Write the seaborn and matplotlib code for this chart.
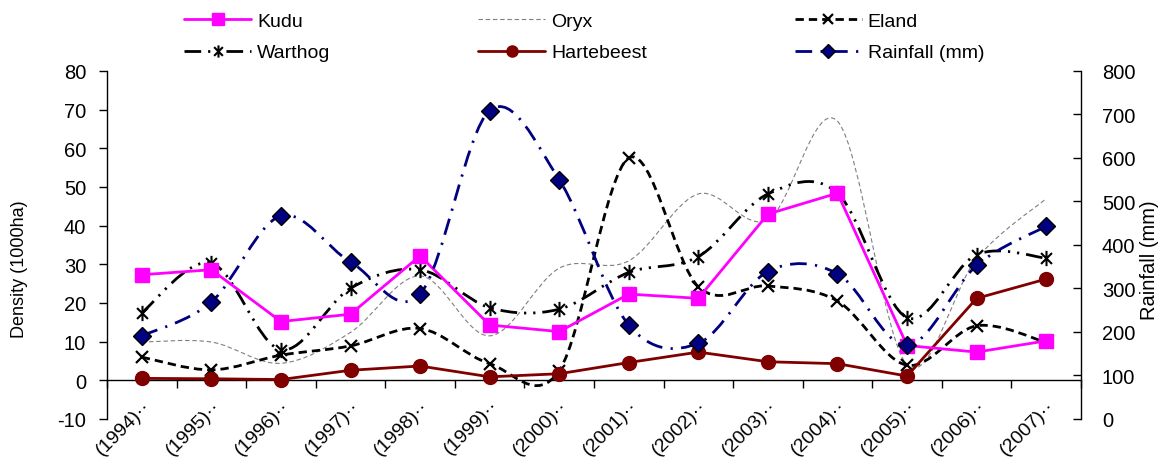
import numpy as np
import matplotlib
matplotlib.use('Agg')
import matplotlib.pyplot as plt
from matplotlib.path import Path
from matplotlib.patches import PathPatch
from matplotlib.lines import Line2D
from matplotlib.transforms import ScaledTranslation
import seaborn as sns

sns.set_theme(style='white')
plt.rcParams['font.family'] = ['Liberation Sans', 'DejaVu Sans']
plt.rcParams.update({'text.color': 'black', 'axes.labelcolor': 'black',
                     'xtick.color': 'black', 'ytick.color': 'black',
                     'axes.edgecolor': 'black', 'axes.unicode_minus': False})

# -----------------------------------------------------------------------------
# data
# -----------------------------------------------------------------------------
years = ['(1994)··', '(1995)··', '(1996)··', '(1997)··', '(1998)··', '(1999)··', '(2000)··',
         '(2001)··', '(2002)··', '(2003)··', '(2004)··', '(2005)··', '(2006)··', '(2007)··']

kudu = [27.3, 28.6, 15.2, 17.1, 32.2, 14.3, 12.6, 22.3, 21.2, 43.0, 48.4, 9.0, 7.3, 10.2]
oryx = [9.9, 9.9, 4.4, 12.4, 27.0, 11.5, 29.0, 30.9, 48.2, 41.5, 67.0, 4.0, 31.5, 47.0]
eland = [6.0, 2.7, 6.5, 8.9, 13.4, 4.3, 2.5, 57.5, 24.2, 24.4, 20.5, 3.9, 14.1, 9.8]
warthog = [17.5, 30.3, 7.9, 23.8, 28.6, 18.8, 18.4, 27.9, 32.0, 48.2, 48.4, 16.2, 32.5, 31.6]
hartebeest = [0.5, 0.4, 0.2, 2.6, 3.7, 0.9, 1.7, 4.6, 7.3, 4.8, 4.3, 1.1, 21.2, 26.2]
rainfall = [191, 269, 467, 361, 287, 709, 550, 216, 174, 339, 334, 169, 353, 443]

pos = np.arange(len(years))


# excel style smoothed line: bezier segments through the points
def smooth_path(x, y):
    pts = np.column_stack([x, y]).astype(float)
    ext = np.vstack([pts[:1], pts, pts[-1:]])
    verts, codes = [pts[0]], [Path.MOVETO]
    for i in range(len(pts) - 1):
        p0, p1, p2, p3 = ext[i], ext[i + 1], ext[i + 2], ext[i + 3]
        verts += [p1 + (p2 - p0) / 6, p2 - (p3 - p1) / 6, p2]
        codes += [Path.CURVE4] * 3
    return Path(verts, codes)


star = Path([(-1, -1), (1, 1), (-1, 1), (1, -1), (0, -1.4), (0, 1.4)],
            [Path.MOVETO, Path.LINETO] * 3)

styles = {
    'Kudu': dict(color='#FF00FF', lw=2, ls='-', marker='s', ms=10.5, mec='#FF00FF', mfc='#FF00FF', mew=1),
    'Oryx': dict(color='#7f7f7f', lw=0.8, ls=(0, (4, 2.5)), marker='', ms=0, mec='#7f7f7f', mfc='none', mew=1),
    'Eland': dict(color='black', lw=2, ls=(0, (3, 1.8)), marker='x', ms=9, mec='black', mfc='none', mew=1.6),
    'Warthog': dict(color='black', lw=2, ls=(0, (6, 2.5, 0.8, 2.5, 0.8, 2.5)), marker=star, ms=11, mec='black', mfc='none', mew=1.5),
    'Hartebeest': dict(color='#800000', lw=2, ls='-', marker='o', ms=10, mec='#800000', mfc='#800000', mew=1),
    'Rainfall (mm)': dict(color='#000080', lw=2, ls=(0, (6, 3, 0.8, 3)), marker='D', ms=9, mec='black', mfc='#000080', mew=1),
}

fig = plt.figure(figsize=(11.67, 4.6), dpi=100)
ax = fig.add_axes([0.0917, 0.087, 0.8346, 0.7565])
ax2 = ax.twinx()

# smoothed series: curve + markers
for name, vals, axis in [('Oryx', oryx, ax), ('Eland', eland, ax), ('Warthog', warthog, ax),
                         ('Rainfall (mm)', rainfall, ax2)]:
    st = styles[name]
    axis.add_patch(PathPatch(smooth_path(pos, vals), fill=False, edgecolor=st['color'],
                             lw=st['lw'], linestyle=st['ls'], zorder=2))
    if st['marker']:
        sns.lineplot(x=pos, y=vals, ax=axis, color=st['color'], linestyle='', marker=st['marker'],
                     markersize=st['ms'], mec=st['mec'], mfc=st['mfc'], mew=st['mew'],
                     errorbar=None, zorder=3)

# straight series
for name, vals in [('Hartebeest', hartebeest), ('Kudu', kudu)]:
    st = styles[name]
    sns.lineplot(x=pos, y=vals, ax=ax, color=st['color'], lw=st['lw'], marker=st['marker'],
                 markersize=st['ms'], mec=st['mec'], mfc=st['mfc'], mew=st['mew'],
                 errorbar=None, zorder=3)

# axes
ax.set_xlim(-0.5, len(years) - 0.5)
ax.set_ylim(-10, 80)
ax.set_yticks(range(-10, 81, 10))
ax2.set_ylim(0, 800)
ax2.set_yticks(range(0, 801, 100))

ax.set_xticks(pos)
ax.set_xticklabels(years, rotation=45, ha='right', va='center', rotation_mode='anchor', fontsize=14)
ax.tick_params(axis='x', length=0, pad=0)
for lab in ax.get_xticklabels():
    lab.set_transform(lab.get_transform() + ScaledTranslation(0.06, 0.165, fig.dpi_scale_trans))

ax.tick_params(axis='y', direction='out', length=6, width=1, labelsize=14.5, pad=9, left=True)
ax2.tick_params(axis='y', direction='in', length=6, width=1, labelsize=14.5, pad=15, right=True)

for s in ['top', 'right', 'bottom']:
    ax.spines[s].set_visible(False)
for s in ['top', 'left', 'bottom']:
    ax2.spines[s].set_visible(False)
ax.spines['left'].set_linewidth(1)
ax2.spines['right'].set_linewidth(1)

# category axis line at y = 0 with boundary ticks
sec = ax.secondary_xaxis(10 / 90)
sec.set_xticks(np.arange(-0.5, len(years), 1))
sec.set_xticklabels([])
sec.tick_params(direction='out', length=6, width=1, color='black')
sec.spines['bottom'].set_linewidth(1)

ax.set_ylabel('Density (1000ha)', fontsize=13)
ax.yaxis.set_label_coords(-0.081, 0.434)
ax2.set_ylabel('Rainfall (mm)', fontsize=14.5)
ax2.yaxis.set_label_coords(1.0606, 0.46)

# legend
order = ['Kudu', 'Warthog', 'Oryx', 'Hartebeest', 'Eland', 'Rainfall (mm)']
handles = [Line2D([], [], color=styles[n]['color'], lw=styles[n]['lw'], ls=styles[n]['ls'],
                  marker=styles[n]['marker'] or None, ms=styles[n]['ms'], mec=styles[n]['mec'],
                  mfc=styles[n]['mfc'], mew=styles[n]['mew']) for n in order]
fig.legend(handles, order, ncol=3, loc='upper center', bbox_to_anchor=(584 / 1167, 1.0),
           frameon=False, fontsize=14, handlelength=3.45, handletextpad=0.3, columnspacing=7.6,
           labelspacing=0.7, borderpad=0.2, markerscale=0.8)

fig.savefig('out.png', dpi=100)
plt.close('all')
